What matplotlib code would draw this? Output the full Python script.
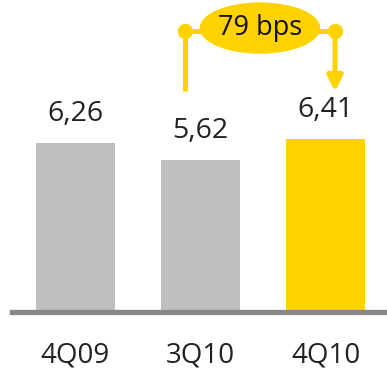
import matplotlib.pyplot as plt
from matplotlib.patches import Ellipse

quarters = ['4Q09', '3Q10', '4Q10']
values = [6.26, 5.62, 6.41]
labels = ['6,26', '5,62', '6,41']
bar_colors = ['#BFBFBF', '#BFBFBF', '#FFD200']
gold = '#FFD200'

plt.rcParams['font.family'] = ['Open Sans', 'DejaVu Sans']

fig = plt.figure(figsize=(3.87, 3.71), dpi=100)
ax = fig.add_axes([0.031, 0.159, 0.969, 0.841])

x = list(range(len(quarters)))
ax.bar(x, values, width=0.63, color=bar_colors, zorder=2)
for xi, v, lab in zip(x, values, labels):
    ax.annotate(lab, (xi, v), xytext=(0, 21), textcoords='offset points',
                ha='center', va='center', fontsize=20.5, color='#222222')

ax.axhline(0, color='#878787', lw=3.8, zorder=3, clip_on=False)

ax.set_xlim(-0.504, 2.49)
ax.set_ylim(0, 11.56)

# bracket showing the change 3Q10 -> 4Q10
y_top = 10.41
x_left = 1 - 0.12
x_right = 2 + 0.075
ax.plot([x_left, x_left], [8.18, y_top], color=gold, lw=3.6, solid_capstyle='butt')
ax.plot([x_left, x_right], [y_top, y_top], color=gold, lw=3.6)
ax.plot([x_left, x_right], [y_top, y_top], 'o', color=gold, ms=10)
ax.annotate('', xy=(x_right, 8.17), xytext=(x_right, y_top),
            arrowprops=dict(arrowstyle='-|>,head_width=0.45,head_length=0.9',
                            color=gold, lw=3.6, shrinkA=0, shrinkB=0))
ax.add_patch(Ellipse((1.476, 10.52), 0.95, 1.85, color=gold, zorder=4))
ax.text(1.476, 10.52, '79 bps', ha='center', va='center', fontsize=19.5,
        color='#111111', zorder=5)

ax.set_xticks(x)
ax.set_xticklabels(quarters, fontsize=20, color='#222222')
ax.tick_params(axis='x', length=0, pad=21)
ax.set_yticks([])
for s in ax.spines.values():
    s.set_visible(False)

fig.savefig('out.png', dpi=100)
